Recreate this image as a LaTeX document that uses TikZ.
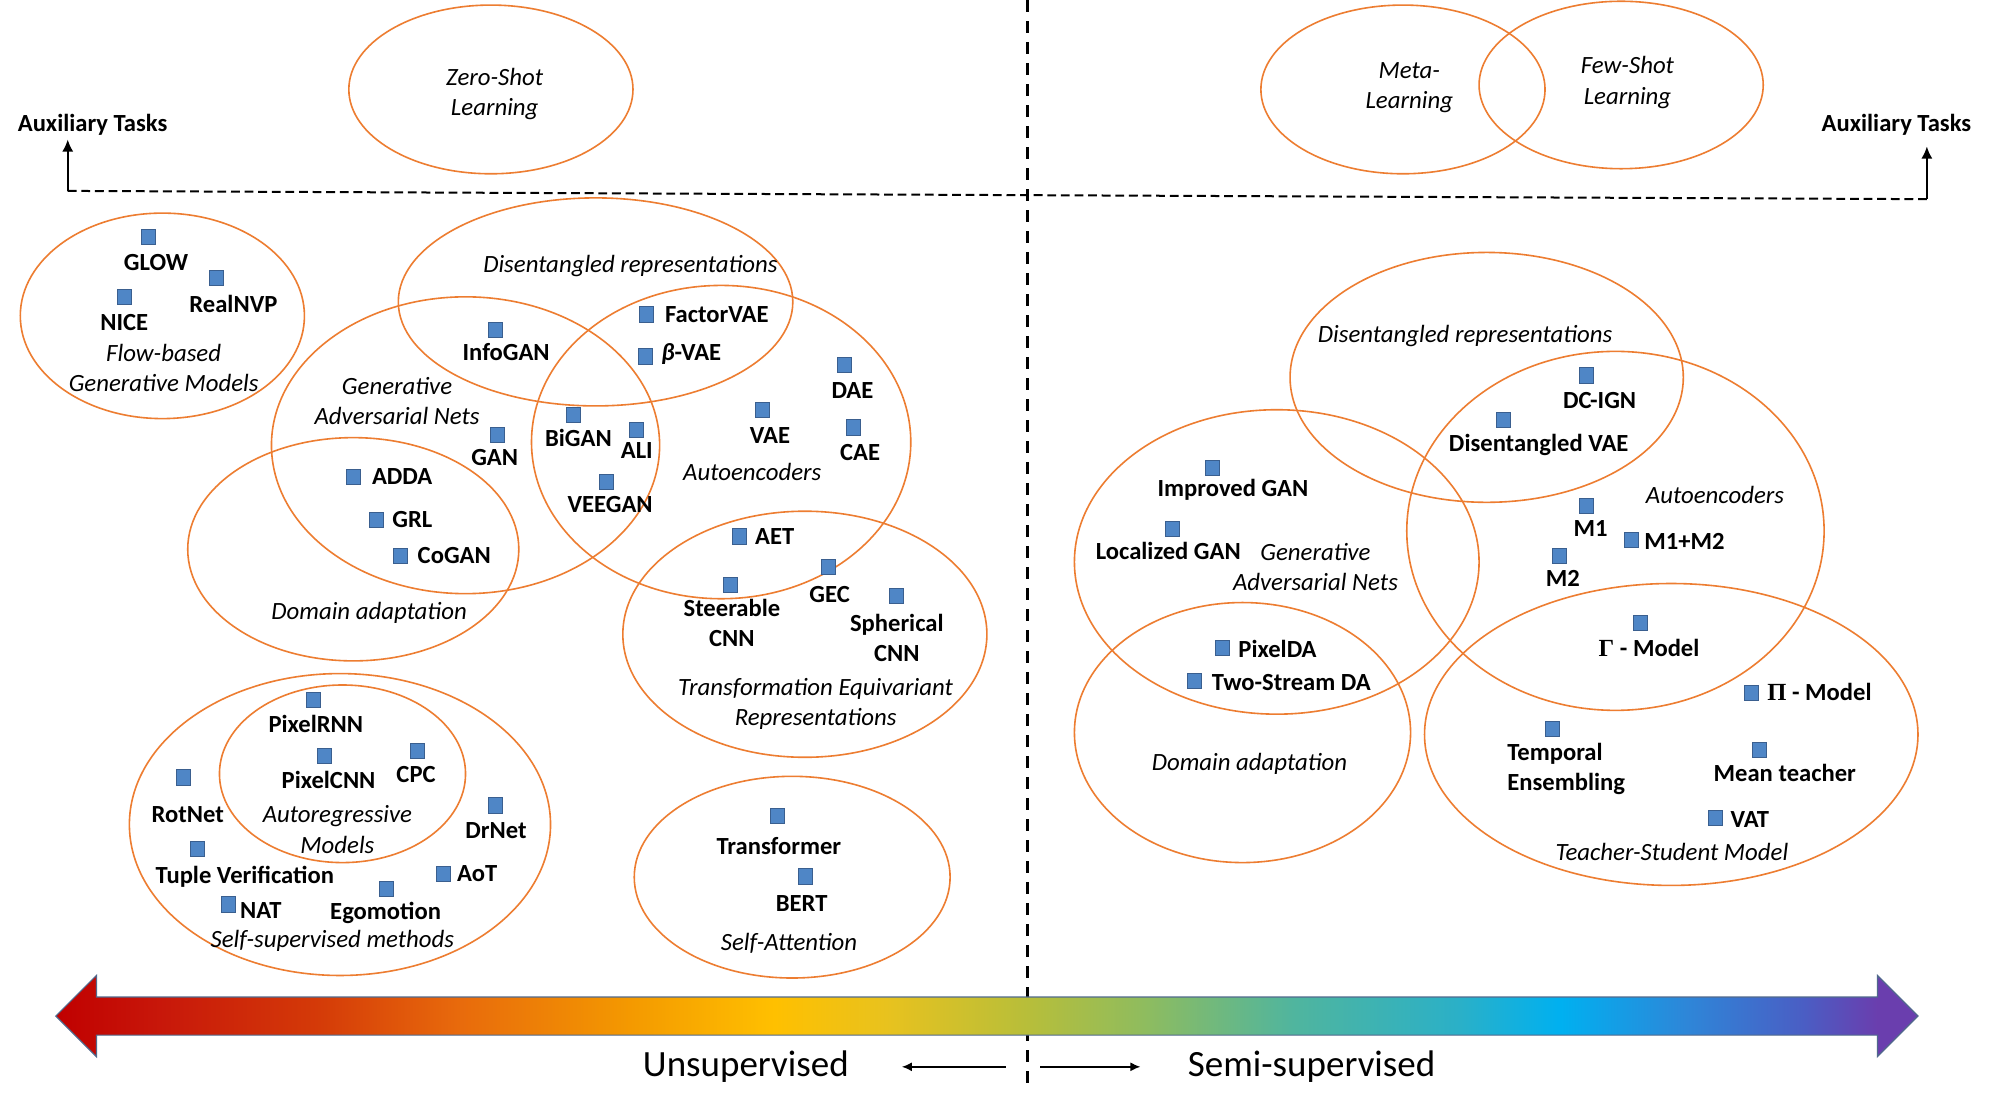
\documentclass[tikz,border=0pt]{standalone}
\usepackage{fontspec}
\setmainfont{Carlito}
\newfontfamily\greekserif{Liberation Serif}
\usetikzlibrary{arrows.meta}
\definecolor{ellc}{HTML}{ED7D31}
\definecolor{sqf}{HTML}{4F86C6}
\definecolor{sqd}{HTML}{3A5F8F}
\definecolor{bardraw}{HTML}{50698C}
\definecolor{ga}{HTML}{C00000}
\definecolor{gb}{HTML}{C8180A}
\definecolor{gc}{HTML}{D43A08}
\definecolor{gd}{HTML}{E86A0C}
\definecolor{ge}{HTML}{F49A00}
\definecolor{gf}{HTML}{FFC000}
\definecolor{gg}{HTML}{E8C21E}
\definecolor{gh}{HTML}{B7BE3A}
\definecolor{gi}{HTML}{8FBC5E}
\definecolor{gj}{HTML}{50B59E}
\definecolor{gk}{HTML}{2AB0C8}
\definecolor{gl}{HTML}{00B0F0}
\definecolor{gm}{HTML}{2E86D8}
\definecolor{gn}{HTML}{4A5EC4}
\definecolor{go}{HTML}{6A3EAE}
\pgfdeclarehorizontalshading{rainbowbar}{100bp}{color(0bp)=(ga); color(25bp)=(ga); color(27.9bp)=(gb); color(32bp)=(gc); color(35.8bp)=(gd); color(40.5bp)=(ge); color(44.3bp)=(gf); color(47.3bp)=(gg); color(51.1bp)=(gh); color(54.2bp)=(gi); color(58.2bp)=(gj); color(62.7bp)=(gk); color(65.4bp)=(gl); color(68.8bp)=(gm); color(71.9bp)=(gn); color(73.9bp)=(go); color(75bp)=(go); color(100bp)=(go)}
\newcommand\labfont{\fontsize{12.3}{15}\selectfont\bfseries}
\newcommand\catfont{\fontsize{12.4}{15.2}\selectfont\itshape}
\tikzset{
  grp/.style={draw=ellc, line width=0.8pt},
  sq/.style={draw=sqd, fill=sqf, minimum width=7pt, minimum height=7.6pt, inner sep=0pt, line width=0.5pt},
  lab/.style={font=\labfont, inner sep=0pt, text height=7.9pt, text depth=0pt},
  labm/.style={font=\labfont, inner sep=0pt, align=center},
  cat/.style={font=\catfont, inner sep=0pt, text height=7.7pt, text depth=0pt},
  catm/.style={font=\catfont, inner sep=0pt, align=center},
  auxdash/.style={black, line width=1pt, dash pattern=on 4.4pt off 2.4pt},
  middash/.style={black, line width=1.3pt, dash pattern=on 5.8pt off 4.7pt},
  tip/.style={-{Latex[length=6pt,width=5.5pt]}, line width=0.8pt},
  smalltip/.style={-{Latex[length=5pt,width=4.5pt]}, line width=0.7pt}
}
\begin{document}
\begin{tikzpicture}[x=0.634pt,y=-0.634pt]
\useasboundingbox (0,0) rectangle (1568,876);
\fill[white] (0,0) rectangle (1568,876);

% ---- group ellipses ----
\draw[grp] (387,70.5) ellipse [x radius=112, y radius=66.5];
\draw[grp] (1106,70.5) ellipse [x radius=112, y radius=66.5];
\draw[grp] (1278,67) ellipse [x radius=112, y radius=66];
\draw[grp] (128,249) ellipse [x radius=112, y radius=81];
\draw[grp] (469.5,238) ellipse [x radius=155.5, y radius=82];
\draw[grp] (367,351) ellipse [x radius=153, y radius=117];
\draw[grp] (278.5,433) ellipse [x radius=130.5, y radius=88];
\draw[grp] (568.5,348.5) ellipse [x radius=149.5, y radius=123.5];
\draw[grp] (634.5,500) ellipse [x radius=143.5, y radius=97];
\draw[grp] (268,650) ellipse [x radius=166, y radius=119];
\draw[grp] (270,610) ellipse [x radius=97, y radius=70];
\draw[grp] (624.5,691.5) ellipse [x radius=124.5, y radius=79.5];
\draw[grp] (1172,297.5) ellipse [x radius=155, y radius=98.5];
\draw[grp] (1006.5,443) ellipse [x radius=159.5, y radius=120];
\draw[grp] (1273.5,418.5) ellipse [x radius=164.5, y radius=141.5];
\draw[grp] (979.5,577.5) ellipse [x radius=132.5, y radius=102.5];
\draw[grp] (1317.5,579) ellipse [x radius=194.5, y radius=119];

% ---- dashed guides and auxiliary arrows ----
\coordinate (vtop) at (810,0);
\coordinate (vbot) at (810,860);
\draw[middash] (vtop) -- (vbot);
\coordinate (auxL) at (53.4,150.5);
\coordinate (auxR) at (1519,157);
\coordinate (auxLtip) at (53.4,110);
\coordinate (auxRtip) at (1519,115.5);
\draw[auxdash] (auxL) -- (auxR);
\draw[tip] (auxL) -- (auxLtip);
\draw[tip] (auxR) -- (auxRtip);
\node[font=\labfont, inner sep=0pt, anchor=base] (auxTL) at (73,104) {Auxiliary Tasks};
\node[font=\labfont, inner sep=0pt, anchor=base] (auxTR) at (1495,104) {Auxiliary Tasks};

% ---- category labels ----
\node[catm] (zsl) at (390,74) {Zero-Shot\\Learning};
\node[catm] (meta) at (1111,69) {Meta-\\Learning};
\node[catm] (fsl) at (1283,65) {Few-Shot\\Learning};
\node[catm] (flow) at (129,290) {Flow-based\\Generative Models};
\node[cat] (disL) at (497,209) {Disentangled representations};
\node[catm] (ganL) at (313,316) {Generative\\Adversarial Nets};
\node[cat] (aeL) at (593,373) {Autoencoders};
\node[cat] (daL) at (291,482) {Domain adaptation};
\node[catm] (ter) at (643,555) {Transformation Equivariant\\Representations};
\node[catm] (arm) at (266,654) {Autoregressive\\Models};
\node[cat] (ssm) at (262,741) {Self-supervised methods};
\node[cat] (satt) at (622,743) {Self-Attention};
\node[cat] (disR) at (1155,264) {Disentangled representations};
\node[catm] (ganR) at (1037,447) {Generative\\Adversarial Nets};
\node[cat] (aeR) at (1352,391) {Autoencoders};
\node[cat] (daR) at (985,601) {Domain adaptation};
\node[cat] (tsm) at (1318,672) {Teacher-Student Model};

% ---- method markers ----
\foreach \n/\x/\y in {glow/117/187, realnvp/171/219, nice/98/234, infogan/391/260,
  factorvae/510/248, betavae/509/281, gan/392/343, bigan/452/327, ali/502/339,
  veegan/478/380, vae/601/323, dae/666/288, cae/673/337, adda/279/376, grl/297/410,
  cogan/316/438, aet/583/423, steer/576/461, gec/653/447, spher/707/470,
  pixelrnn/247/552, pixelcnn/256/596, cpc/329/592, rotnet/145/613, drnet/391/635,
  tuple/156/669, aot/350/689, ego/305/701, nat/180/713, transf/613/643, bert/635/691,
  dcign/1251/296, disvae/1185/331, impgan/956/369, locgan/924/417, mone/1251/399,
  monetwo/1286/426, mtwo/1229/438, gamma/1293/491, pixelda/964/511, twostream/942/537,
  pim/1381/546, temporal/1224/575, meanteacher/1387/591, vat/1352/645}
  \node[sq] (s-\n) at (\x,\y) {};

% ---- method labels (left) ----
\node[lab] (l-glow) at (123,207) {GLOW};
\node[lab] (l-realnvp) at (184,240) {RealNVP};
\node[lab] (l-nice) at (98,254) {NICE};
\node[lab] (l-infogan) at (399,278) {InfoGAN};
\node[lab, anchor=west] (l-factorvae) at (524,248) {FactorVAE};
\node[lab, anchor=west] (l-betavae) at (521,278) {{\itshape β}-VAE};
\node[lab] (l-gan) at (390,361) {GAN};
\node[lab] (l-bigan) at (456,346) {BiGAN};
\node[lab] (l-ali) at (502,355) {ALI};
\node[lab] (l-veegan) at (481,398) {VEEGAN};
\node[lab] (l-vae) at (607,343) {VAE};
\node[lab] (l-dae) at (672,308) {DAE};
\node[lab] (l-cae) at (678,357) {CAE};
\node[lab, anchor=west] (l-adda) at (293,376) {ADDA};
\node[lab, anchor=west] (l-grl) at (309,410) {GRL};
\node[lab, anchor=west] (l-cogan) at (329,438) {CoGAN};
\node[lab, anchor=west] (l-aet) at (595,423) {AET};
\node[labm] (l-steer) at (577,491) {Steerable\\CNN};
\node[lab] (l-gec) at (654,469) {GEC};
\node[labm] (l-spher) at (707,503) {Spherical\\CNN};
\node[lab] (l-pixelrnn) at (249,571) {PixelRNN};
\node[lab] (l-pixelcnn) at (259,615) {PixelCNN};
\node[lab] (l-cpc) at (328,611) {CPC};
\node[lab] (l-rotnet) at (148,642) {RotNet};
\node[lab] (l-drnet) at (391,655) {DrNet};
\node[lab] (l-tuple) at (193,690) {Tuple Verification};
\node[lab, anchor=west] (l-aot) at (360,689) {AoT};
\node[lab] (l-ego) at (304,719) {Egomotion};
\node[lab, anchor=west] (l-nat) at (189,718) {NAT};
\node[lab] (l-transf) at (614,667) {Transformer};
\node[lab] (l-bert) at (632,712) {BERT};

% ---- method labels (right) ----
\node[lab] (l-dcign) at (1261,316) {DC-IGN};
\node[lab] (l-disvae) at (1213,350) {Disentangled VAE};
\node[lab] (l-impgan) at (972,385) {Improved GAN};
\node[lab] (l-locgan) at (921,435) {Localized GAN};
\node[lab] (l-mone) at (1254,417) {M1};
\node[lab, anchor=west] (l-monetwo) at (1296,427) {M1+M2};
\node[lab] (l-mtwo) at (1232,456) {M2};
\node[lab] (l-gamma) at (1300,511) {{\greekserif Γ} - Model};
\node[lab, anchor=west] (l-pixelda) at (976,512) {PixelDA};
\node[lab, anchor=west] (l-twostream) at (955,538) {Two-Stream DA};
\node[lab, anchor=west] (l-pim) at (1393,546) {{\greekserif Π} - Model};
\node[font=\labfont, inner sep=0pt, align=left, anchor=west] (l-temporal) at (1188,606) {Temporal\\Ensembling};
\node[lab] (l-meanteacher) at (1407,610) {Mean teacher};
\node[lab, anchor=west] (l-vat) at (1364,646) {VAT};

% ---- supervision axis ----
\shadedraw[shading=rainbowbar, draw=bardraw, line width=0.6pt]
  (44,801) -- (76,769) -- (76,786) -- (1480,786) -- (1480,769) -- (1512,801)
  -- (1480,833) -- (1480,816) -- (76,816) -- (76,833) -- cycle;
\node[font=\fontsize{18.5}{20}\selectfont, inner sep=0pt, anchor=base] (unsup) at (588,849) {Unsupervised};
\node[font=\fontsize{18.5}{20}\selectfont, inner sep=0pt, anchor=base] (semisup) at (1034,849) {Semi-supervised};
\coordinate (ua1) at (793,841);
\coordinate (ua2) at (711,841);
\coordinate (sa1) at (820,841);
\coordinate (sa2) at (899,841);
\draw[smalltip] (ua1) -- (ua2);
\draw[smalltip] (sa1) -- (sa2);
\end{tikzpicture}
\end{document}
